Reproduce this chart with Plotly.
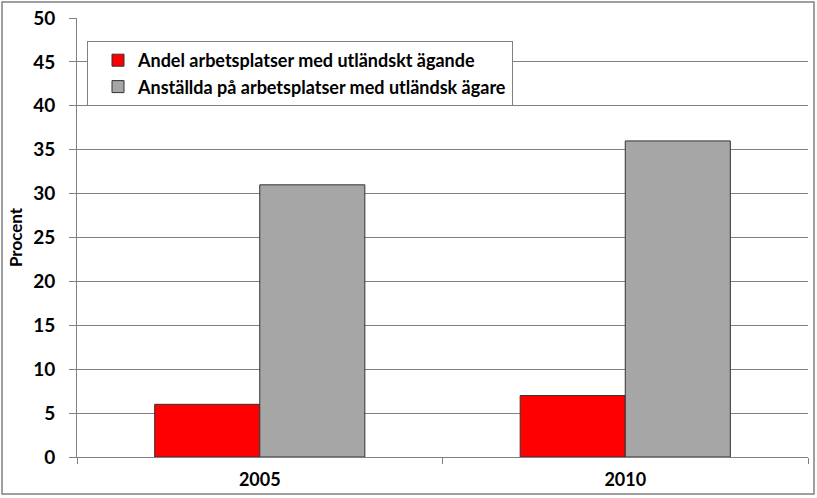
import plotly.graph_objects as go

years = ["2005", "2010"]
andel = [6, 7]
anstallda = [31, 36]
names = ["Andel arbetsplatser med utländskt ägande",
         "Anställda på arbetsplatser med utländsk ägare"]

W, H = 817, 498
ml, mr, mt, mb = 77, 9, 18, 41
pw, ph = W - ml - mr, H - mt - mb

fig = go.Figure()
fig.add_trace(go.Bar(x=years, y=andel, name=names[0],
                     marker=dict(color="#ff0000", line=dict(color="#333333", width=1))))
fig.add_trace(go.Bar(x=years, y=anstallda, name=names[1],
                     marker=dict(color="#a6a6a6", line=dict(color="#333333", width=1))))

font = dict(family="Lato, Open Sans, sans-serif", size=16, color="black")

fig.update_layout(
    width=W, height=H,
    margin=dict(l=ml, r=mr, t=mt, b=mb, autoexpand=False),
    paper_bgcolor="white", plot_bgcolor="white",
    barmode="group", bargap=0.425, bargroupgap=0,
    font=font,
    legend=dict(x=10 / pw, y=1 - 23 / ph, xanchor="left", yanchor="top",
                bgcolor="white", bordercolor="#808080", borderwidth=1,
                font=dict(family="Lato, sans-serif", size=18, color="black", weight="bold"),
                tracegroupgap=0, indentation=10),
    xaxis=dict(showline=True, linecolor="#808080", linewidth=1, automargin=False,
               ticks="outside", tickson="boundaries", ticklen=6, tickcolor="#808080",
               ticklabelstandoff=6,
               tickfont=dict(family="Lato, sans-serif", size=18, color="black", weight="bold"),
               showgrid=False),
    yaxis=dict(range=[0, 50], dtick=5, showline=True, linecolor="#808080", linewidth=1,
               automargin=False,
               ticks="outside", ticklen=7, tickcolor="#808080", ticklabelstandoff=10,
               showgrid=True, gridcolor="#808080", gridwidth=1, zeroline=False,
               tickfont=dict(family="Lato, sans-serif", size=19, color="black", weight="bold"),
               title=dict(text="<b>Procent</b>", font=dict(family="Lato, sans-serif", size=17), standoff=6)),
)

# outer frame around the whole picture
fig.add_shape(type="rect", xref="paper", yref="paper", layer="above",
              x0=(2 - ml) / pw, x1=(W - 3 - ml) / pw,
              y0=-(mb - 4) / ph, y1=1 + (mt - 2) / ph,
              line=dict(color="#808080", width=1.5))

fig.write_html("out.html", config={"displayModeBar": False},
               post_script="document.body.style.margin='0';")
